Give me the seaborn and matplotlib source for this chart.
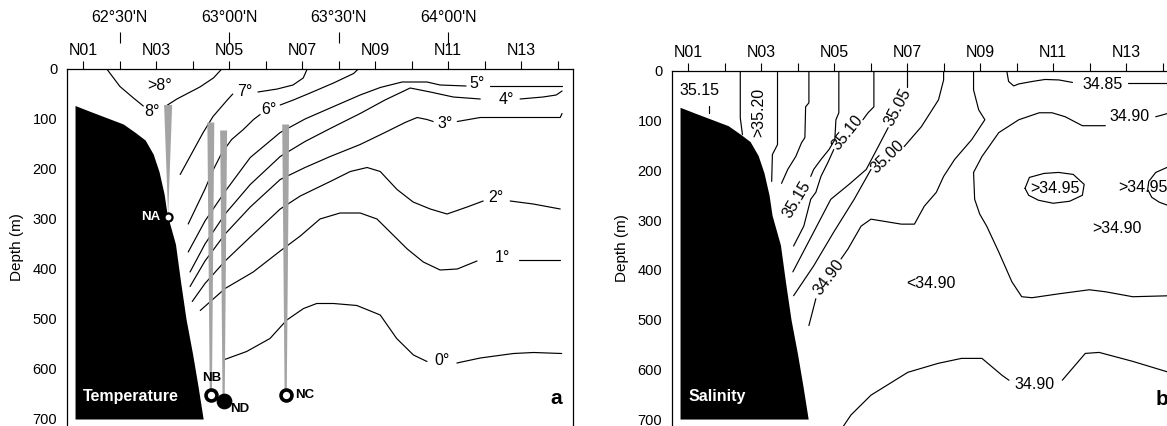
import matplotlib
matplotlib.use("Agg")
import matplotlib.pyplot as plt
import pandas as pd
import seaborn as sns

# ---------------- data ----------------
# stations along the section (top axis), latitude marks, depth ticks
station_nums = list(range(1, 15))
station_labels = ['N%02d' % n if n % 2 else '' for n in station_nums]
lat_pos = [2, 5, 8, 11]
lat_labels = ["62°30'N", "63°00'N", "63°30'N", "64°00'N"]
depth_ticks = [0, 100, 200, 300, 400, 500, 600, 700]

# bottom topography (station units, depth m)
bathy_station = [0.78, 1.2, 1.74, 2.1, 2.45, 2.7, 2.92, 3.08, 3.22, 3.30,
                 3.53, 3.67, 3.82, 4.0, 4.15, 4.29]
bathy_depth = [73, 85, 100, 110, 128, 142, 170, 205, 250, 290,
               350, 425, 500, 570, 635, 700]

# isotherms, each a list of segments of (station, depth)
t8 = [[(1.65, 0), (2.01, 35), (2.38, 58), (2.65, 74)],
      [(3.25, 75), (3.57, 60), (4.20, 36), (4.57, 18), (4.80, 0)]]
t7 = [[(3.66, 211), (3.93, 175), (4.29, 127), (4.56, 95), (4.95, 62), (5.10, 50)],
      [(5.79, 46), (6.32, 40), (6.75, 32), (7.03, 18), (7.14, 0)]]
t6 = [[(3.88, 310), (4.34, 240), (4.57, 201), (4.80, 168), (5.07, 141),
       (5.39, 121), (5.67, 101), (5.85, 91)],
      [(6.40, 72), (6.76, 62), (7.22, 48), (7.86, 28), (8.41, 9), (8.54, 0)]]
t5 = [[(3.88, 366), (4.34, 304), (4.89, 245), (5.58, 177), (6.40, 127), (7.08, 100),
       (7.77, 78), (8.59, 52), (9.14, 37), (9.74, 26), (10.42, 26), (10.78, 32),
       (11.49, 34)],
      [(12.15, 34), (14.12, 34)]]
t4 = [[(3.93, 406), (4.34, 350), (4.89, 290), (5.58, 231), (6.40, 175), (7.08, 145),
       (7.77, 119), (8.59, 89), (9.27, 62), (9.96, 38), (10.51, 46), (11.14, 56),
       (11.88, 60)],
      [(12.97, 60), (13.60, 56), (13.96, 52), (14.12, 44)]]
t3 = [[(3.93, 435), (4.34, 384), (4.89, 330), (5.58, 276), (6.40, 221), (7.08, 197),
       (7.77, 175), (8.59, 151), (9.27, 127), (9.82, 107), (10.15, 97), (10.42, 101),
       (10.59, 105)],
      [(11.25, 105), (11.88, 97), (12.42, 97), (14.07, 97), (14.12, 89)]]
t2 = [[(3.99, 465), (4.34, 429), (4.89, 384), (5.58, 336), (6.40, 280), (6.95, 254),
       (7.77, 225), (8.32, 205), (8.78, 197), (9.14, 205), (9.60, 241), (10.04, 266),
       (10.51, 280), (10.97, 290), (11.52, 276), (11.96, 264)],
      [(12.70, 264), (13.33, 270), (14.07, 280)]]
t1 = [[(4.21, 483), (4.89, 439), (5.66, 406), (6.40, 364), (6.95, 334), (7.49, 300),
       (8.04, 288), (8.59, 288), (9.05, 300), (9.41, 326), (9.88, 360), (10.32, 386),
       (10.78, 402), (11.25, 400), (11.79, 384)],
      [(12.93, 382), (14.07, 382)]]
t0 = [[(4.84, 582), (5.48, 565), (6.12, 539), (6.58, 502), (7.04, 479), (7.40, 469),
       (7.86, 469), (8.50, 473), (9.14, 492), (9.59, 539), (10.05, 572), (10.42, 585)],
      [(11.24, 588), (11.88, 578), (12.79, 569), (13.34, 567), (14.11, 569)]]

# isohalines
s_a = [[(2.43, 0), (2.43, 94), (2.49, 128)]]
s_b = [[(3.45, 0), (3.45, 148), (3.31, 168), (3.29, 222)]]
s_c = [[(4.31, 0), (4.31, 64), (4.22, 72), (4.20, 134), (4.11, 144), (3.95, 172),
        (3.73, 198), (3.56, 226)]]
s_3515 = [[(5.13, 0), (5.13, 84), (5.05, 98), (5.02, 138), (4.86, 158), (4.64, 178),
           (4.44, 198), (4.36, 212)]]
s_3510 = [[(6.09, 0), (6.09, 72), (5.93, 84), (5.79, 98)],
          [(4.99, 158), (4.83, 184), (4.64, 212), (4.50, 244), (4.36, 258), (4.17, 312),
           (3.89, 352)]]
s_3505 = [[(7.00, 0), (7.00, 32)],
          [(6.48, 114), (6.21, 152), (5.88, 198), (5.41, 228), (4.91, 258), (4.44, 324),
           (3.87, 404)]]
s_3500 = [[(8.00, 0), (8.00, 18), (7.86, 58), (7.39, 112), (6.92, 152)],
          [(6.01, 198), (5.55, 258), (4.99, 324), (4.44, 392), (3.89, 452)]]
s_3490_west = [[(8.82, 0), (8.82, 38), (8.96, 78), (9.13, 98), (8.77, 138), (8.30, 178),
                (8.00, 212), (7.80, 244), (7.47, 272), (7.20, 308), (6.84, 308),
                (6.01, 298), (5.74, 312), (5.38, 358), (5.19, 378)],
               [(4.50, 458), (4.31, 512)]]
s_3485 = [[(9.73, 0), (9.78, 21), (9.92, 30), (10.06, 26), (10.43, 21), (10.78, 17),
           (11.16, 18), (11.53, 23)],
          [(13.04, 25), (14.56, 25)]]
s_3490_east = [[(14.56, 82), (14.21, 84), (13.81, 92)],
               [(12.43, 110), (11.80, 110), (11.33, 92), (10.97, 84), (10.62, 84),
                (10.06, 98), (9.51, 124), (9.05, 172), (8.82, 204), (8.85, 258),
                (8.99, 288), (9.18, 312), (9.51, 364), (9.87, 424), (10.14, 454),
                (10.42, 456), (11.17, 448), (11.99, 440), (12.43, 444), (13.18, 454),
                (14.21, 452), (14.56, 452)]]
s_3495_core = [[(10.23, 236), (10.35, 214), (10.75, 206), (11.15, 204), (11.55, 208),
                (11.85, 228), (11.80, 250), (11.45, 262), (11.00, 266), (10.60, 260),
                (10.33, 250), (10.23, 236)]]
s_3495_east = [[(14.60, 188), (14.21, 191), (13.81, 204), (13.62, 222), (13.59, 238),
                (13.70, 254), (13.91, 264), (14.21, 272), (14.60, 272)]]
s_3490_deep = [[(5.24, 716), (5.46, 692), (6.01, 652), (7.02, 606), (7.85, 588),
                (8.49, 578), (9.05, 578), (9.60, 612), (9.79, 622)],
               [(11.25, 622), (11.88, 568), (12.26, 566), (13.18, 584), (14.08, 604),
                (14.56, 614)]]
s_tick = [[(1.56, 71), (1.56, 85)]]

# moorings
moor_names = ['NA', 'NB', 'ND', 'NC']
moor_station = [3.33, 4.50, 4.85, 6.55]
moor_top = [72, 107, 123, 111]
moor_bottom = [296, 652, 664, 652]
moor_filled = [False, False, True, False]

temp_lines = {'t8': t8, 't7': t7, 't6': t6, 't5': t5, 't4': t4,
              't3': t3, 't2': t2, 't1': t1, 't0': t0}
sal_lines = {'a': s_a, 'b': s_b, 'c': s_c, '3515': s_3515, '3510': s_3510,
             '3505': s_3505, '3500': s_3500, '3490w': s_3490_west, '3485': s_3485,
             '3490e': s_3490_east, '3495c': s_3495_core, '3495e': s_3495_east,
             '3490d': s_3490_deep, 'tick': s_tick}

# contour labels: text, station, depth, rotation
temp_text = [('>8°', 3.11, 34, 0), ('8°', 2.90, 86, 0), ('7°', 5.42, 44, 0),
             ('6°', 6.10, 82, 0), ('5°', 11.80, 28, 0), ('4°', 12.60, 60, 0),
             ('3°', 10.92, 110, 0), ('2°', 12.30, 256, 0), ('1°', 12.50, 378, 0),
             ('0°', 10.84, 583, 0)]
sal_text = [('35.15', 1.30, 40, 0), ('>35.20', 2.93, 84, 90), ('35.15', 3.98, 258, 59),
            ('35.10', 5.38, 124, 51), ('35.05', 6.74, 72, 62), ('35.00', 6.48, 172, 44),
            ('34.90', 4.86, 414, 53), ('34.85', 12.36, 28, 0), ('34.90', 13.08, 92, 0),
            ('>34.95', 11.06, 236, 0), ('>34.95', 13.45, 234, 0),
            ('>34.90', 12.76, 316, 0), ('<34.90', 7.66, 428, 0), ('34.90', 10.50, 630, 0)]


def to_frame(lines):
    rows = []
    for name, segs in lines.items():
        for k, seg in enumerate(segs):
            for s, d in seg:
                rows.append((f'{name}_{k}', s, d))
    return pd.DataFrame(rows, columns=['seg', 'station', 'depth'])


# ---------------- style ----------------
sns.set_theme(style='white')
plt.rcParams['font.family'] = ['Liberation Sans', 'DejaVu Sans']
plt.rcParams['axes.edgecolor'] = 'black'
plt.rcParams['axes.linewidth'] = 0.9
plt.rcParams['text.color'] = 'black'
plt.rcParams['axes.labelcolor'] = 'black'

fig = plt.figure(figsize=(11.67, 4.26), dpi=100)
ax1 = fig.add_axes([67 / 1167, 0, 506 / 1167, 357 / 426])
ax2 = fig.add_axes([672 / 1167, 0, 506 / 1167, 355 / 426])


def setup(ax, title, letter):
    ax.set_xlim(0.56, 14.42)
    ax.set_ylim(714, 0)
    ax.spines['bottom'].set_visible(False)
    ax.set_xticks(station_nums)
    ax.set_xticklabels(station_labels)
    ax.set_yticks(depth_ticks)
    ax.xaxis.tick_top()
    ax.tick_params(axis='x', direction='out', length=6, width=0.8, pad=2,
                   labelsize=11.5, colors='black')
    ax.tick_params(axis='y', direction='out', length=4, width=0.8, pad=3,
                   labelsize=10.5, colors='black')
    ax.set_xlabel('')
    ax.set_ylabel('Depth (m)', fontsize=11, labelpad=6, color='black')
    # bottom topography
    ax.fill_between(bathy_station, bathy_depth, 700, color='black', lw=0, zorder=3)
    ax.text(1.0, 655, title, color='white', fontsize=11.5, fontweight='bold',
            ha='left', va='center', zorder=6)
    ax.text(13.97, 660, letter, color='black', fontsize=15, fontweight='bold',
            ha='center', va='center', zorder=6)


# ---------------- temperature ----------------
sns.lineplot(data=to_frame(temp_lines), x='station', y='depth', units='seg',
             estimator=None, sort=False, color='black', linewidth=0.85,
             legend=False, ax=ax1)

# mooring lines
for name, s, top, bot in zip(moor_names, moor_station, moor_top, moor_bottom):
    if name == 'NA':
        xs = [s - 0.11, s + 0.11, s]
        ys = [top, top, bot]
    else:
        xs = [s - 0.095, s + 0.095, s + 0.03, s - 0.03]
        ys = [top, top, bot - 8, bot - 8]
    ax1.fill(xs, ys, color='#a4a4a4', lw=0, zorder=4)

moor_df = pd.DataFrame({'station': moor_station, 'depth': moor_bottom,
                        'name': moor_names, 'filled': moor_filled})
open_df = moor_df[~moor_df.filled & (moor_df.name != 'NA')]
sns.scatterplot(data=open_df, x='station', y='depth', s=62, marker='o',
                facecolor='white', edgecolor='black', linewidth=2.6, zorder=7, ax=ax1)
sns.scatterplot(data=moor_df[moor_df.filled], x='station', y='depth', s=110,
                marker='o', color='black', edgecolor='black', zorder=7, ax=ax1)
sns.scatterplot(data=moor_df[moor_df.name == 'NA'], x='station', y='depth', s=34,
                marker='o', facecolor='white', edgecolor='black', linewidth=1.6,
                zorder=7, ax=ax1)
setup(ax1, 'Temperature', 'a')
for txt, s, d, rot in temp_text:
    ax1.text(s, d, txt, fontsize=11.5, ha='center', va='center', rotation=rot)

ax1.text(3.13, 296, 'NA', color='white', fontsize=9.5, fontweight='bold',
         ha='right', va='center', zorder=8)
ax1.text(4.52, 618, 'NB', color='black', fontsize=9.5, fontweight='bold',
         ha='center', va='center', zorder=8)
ax1.text(5.02, 680, 'ND', color='black', fontsize=9.5, fontweight='bold',
         ha='left', va='center', zorder=8)
ax1.text(6.80, 652, 'NC', color='black', fontsize=9.5, fontweight='bold',
         ha='left', va='center', zorder=8)

# latitude marks above the station labels
lat = ax1.secondary_xaxis(1.0728)
lat.set_xticks(lat_pos)
lat.set_xticklabels(lat_labels)
lat.tick_params(axis='x', direction='out', length=8, width=0.8, pad=5,
                labelsize=11.5, colors='black')
for sp in lat.spines.values():
    sp.set_visible(False)

# ---------------- salinity ----------------
sns.lineplot(data=to_frame(sal_lines), x='station', y='depth', units='seg',
             estimator=None, sort=False, color='black', linewidth=0.85,
             legend=False, ax=ax2)
setup(ax2, 'Salinity', 'b')
for txt, s, d, rot in sal_text:
    ax2.text(s, d, txt, fontsize=11.5, ha='center', va='center', rotation=rot,
             rotation_mode='anchor' if rot else 'default')

fig.savefig('out.png', dpi=100, facecolor='white')
